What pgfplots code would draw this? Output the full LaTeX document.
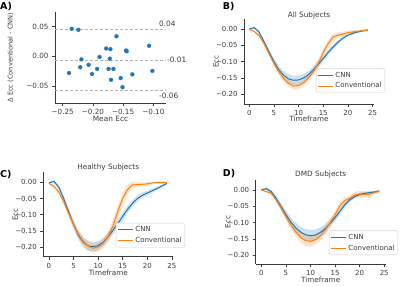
\documentclass[border=0pt]{standalone}
\usepackage{pgfplots}
\pgfplotsset{compat=1.18}
\usepackage{pgfplotstable}
\usepgfplotslibrary{fillbetween}
\usepackage{fontspec}
\setmainfont{DejaVu Sans}
\definecolor{tabblue}{HTML}{1F77B4}
\definecolor{taborange}{HTML}{FF7F0E}
\definecolor{txt}{HTML}{3A3A3A}
\definecolor{spine}{HTML}{3A3A3A}

\pgfplotstableread{
t cnn ecnn conv econv
0 0.000 0.002 -0.001 0.002
1 0.004 0.003 -0.008 0.003
2 -0.010 0.005 -0.020 0.004
3 -0.040 0.007 -0.045 0.006
4 -0.070 0.008 -0.075 0.007
5 -0.100 0.010 -0.105 0.008
6 -0.125 0.011 -0.132 0.009
7 -0.142 0.013 -0.152 0.010
8 -0.153 0.014 -0.167 0.010
9 -0.157 0.014 -0.175 0.010
10 -0.156 0.014 -0.173 0.010
11 -0.150 0.013 -0.165 0.010
12 -0.140 0.012 -0.150 0.010
13 -0.125 0.011 -0.130 0.011
14 -0.108 0.010 -0.105 0.012
15 -0.090 0.009 -0.072 0.013
16 -0.072 0.008 -0.045 0.012
17 -0.055 0.007 -0.024 0.010
18 -0.040 0.006 -0.019 0.008
19 -0.028 0.005 -0.015 0.007
20 -0.019 0.004 -0.011 0.006
21 -0.013 0.004 -0.009 0.005
22 -0.009 0.003 -0.007 0.004
23 -0.006 0.003 -0.005 0.003
24 -0.003 0.002 -0.003 0.002
}\tabB

\pgfplotstableread{
t cnn ecnn conv econv
0 -0.002 0.002 -0.003 0.003
1 0.003 0.003 -0.012 0.004
2 -0.015 0.006 -0.030 0.006
3 -0.050 0.009 -0.060 0.008
4 -0.090 0.011 -0.095 0.010
5 -0.130 0.013 -0.130 0.012
6 -0.163 0.014 -0.160 0.013
7 -0.185 0.015 -0.182 0.013
8 -0.196 0.015 -0.197 0.013
9 -0.198 0.015 -0.203 0.013
10 -0.195 0.014 -0.199 0.013
11 -0.185 0.013 -0.188 0.014
12 -0.168 0.013 -0.168 0.016
13 -0.148 0.013 -0.135 0.019
14 -0.127 0.013 -0.090 0.021
15 -0.105 0.012 -0.050 0.020
16 -0.083 0.011 -0.022 0.015
17 -0.065 0.010 -0.008 0.010
18 -0.050 0.009 -0.007 0.007
19 -0.040 0.008 -0.006 0.006
20 -0.033 0.007 -0.005 0.005
21 -0.026 0.006 -0.002 0.004
22 -0.019 0.005 -0.001 0.003
23 -0.011 0.004 0.000 0.003
24 -0.004 0.003 -0.001 0.002
}\tabC

\pgfplotstableread{
t cnn ecnn conv econv
0 0.000 0.002 0.000 0.002
1 0.004 0.004 -0.005 0.003
2 -0.005 0.006 -0.010 0.005
3 -0.025 0.008 -0.030 0.007
4 -0.050 0.010 -0.055 0.009
5 -0.075 0.012 -0.082 0.011
6 -0.098 0.014 -0.107 0.013
7 -0.116 0.016 -0.128 0.015
8 -0.129 0.017 -0.145 0.016
9 -0.137 0.018 -0.155 0.017
10 -0.140 0.018 -0.157 0.017
11 -0.138 0.017 -0.152 0.016
12 -0.130 0.016 -0.140 0.015
13 -0.118 0.014 -0.122 0.014
14 -0.102 0.012 -0.100 0.012
15 -0.085 0.010 -0.075 0.011
16 -0.065 0.009 -0.048 0.011
17 -0.045 0.008 -0.032 0.010
18 -0.030 0.007 -0.025 0.009
19 -0.020 0.006 -0.015 0.009
20 -0.014 0.005 -0.012 0.010
21 -0.010 0.005 -0.014 0.010
22 -0.008 0.004 -0.013 0.009
23 -0.006 0.003 -0.008 0.006
24 -0.003 0.002 -0.004 0.003
}\tabD

\pgfplotstableread{
x y
-0.235 0.0466
-0.224 0.0448
-0.161 0.0339
-0.107 0.0178
-0.178 0.0132
-0.171 0.0121
-0.145 0.0098
-0.144 0.0086
-0.189 -0.0011
-0.219 -0.0052
-0.172 -0.0040
-0.207 -0.0144
-0.221 -0.0184
-0.193 -0.0213
-0.174 -0.0213
-0.166 -0.0213
-0.2395 -0.0282
-0.2015 -0.0299
-0.1016 -0.0247
-0.1347 -0.0305
-0.170 -0.0397
-0.154 -0.0368
-0.151 -0.0523
}\tabA

\pgfplotsset{
  /pgf/number format/assume math mode=true,
  sns/.style={
    scale only axis, scaled ticks=false,
    axis x line*=bottom, axis y line*=left,
    axis line style={spine, line width=0.7pt, -},
    every tick/.style={spine, line width=0.6pt},
    tick align=outside, major tick length=3pt,
    tick label style={text=txt},
    label style={text=txt},
  },
  curve/.style={
    sns,
    width=130pt,
    xmin=-1.12, xmax=25.3,
    xtick={0,5,10,15,20,25},
    ytick={-0.2,-0.15,-0.1,-0.05,0},
    yticklabels={−0.20,−0.15,−0.10,−0.05,0.00},
    tick label style={font=\fontsize{7}{8}\selectfont},
    label style={font=\fontsize{7.2}{8.5}\selectfont},
    xlabel={Timeframe}, ylabel={Ecc},
    legend cell align=left,
    legend image code/.code={\draw[#1, line width=1pt] (0pt,0pt) -- (15pt,0pt);},
    legend style={draw=black!18, rounded corners=1.5pt, fill=white,
      font=\fontsize{7}{8.5}\selectfont\color{txt}, inner sep=1.3pt, anchor=south east},
  },
}

\newcommand{\bands}[1]{%
  \addplot[draw=none, name path=bu, forget plot] table[x=t, y expr=\thisrow{cnn}+\thisrow{ecnn}] {#1};
  \addplot[draw=none, name path=bl, forget plot] table[x=t, y expr=\thisrow{cnn}-\thisrow{ecnn}] {#1};
  \addplot[tabblue, fill opacity=0.22, draw=none, forget plot] fill between[of=bu and bl];
  \addplot[draw=none, name path=ou, forget plot] table[x=t, y expr=\thisrow{conv}+\thisrow{econv}] {#1};
  \addplot[draw=none, name path=ol, forget plot] table[x=t, y expr=\thisrow{conv}-\thisrow{econv}] {#1};
  \addplot[taborange, fill opacity=0.22, draw=none, forget plot] fill between[of=ou and ol];
  \addplot[tabblue, line width=1pt] table[x=t, y=cnn] {#1};
  \addplot[taborange, line width=1pt] table[x=t, y=conv] {#1};
  \legend{CNN, Conventional}
}

\begin{document}
\begin{tikzpicture}
\path (0,0) rectangle (400pt,283pt);

% Panel A
\begin{axis}[sns, at={(55pt,180pt)}, anchor=south west,
  width=111pt, height=91pt, clip=false,
  xmin=-0.2627, xmax=-0.079, ymin=-0.079, ymax=0.075,
  xtick={-0.25,-0.2,-0.15,-0.1},
  xticklabels={−0.25,−0.20,−0.15,−0.10},
  ytick={-0.05,0,0.05},
  yticklabels={−0.05,0.00,0.05},
  tick label style={font=\fontsize{7.2}{8}\selectfont},
  xlabel={Mean Ecc},
  ylabel={Δ Ecc (Conventional - CNN)},
  xlabel style={font=\fontsize{7.4}{9}\selectfont, at={(axis description cs:0.5,-0.17)}, anchor=center},
  ylabel style={font=\fontsize{6.6}{8}\selectfont, at={(axis description cs:-0.40,0.5)}, anchor=center},
]
\addplot[gray!60, line width=1pt, dash pattern=on 3.2pt off 1.8pt] coordinates {(-0.2627,0.0448) (-0.079,0.0448)};
\addplot[gray!60, line width=1pt, dash pattern=on 3.2pt off 1.8pt] coordinates {(-0.2627,-0.0075) (-0.079,-0.0075)};
\addplot[gray!60, line width=1pt, dash pattern=on 3.2pt off 1.8pt] coordinates {(-0.2627,-0.058) (-0.079,-0.058)};
\addplot[only marks, mark=*, mark size=2pt, mark options={fill=tabblue, draw=tabblue, line width=0.2pt}] table[x=x, y=y] {\tabA};
\node[anchor=west, text=txt, font=\fontsize{7.4}{8}\selectfont, inner sep=0pt] at (axis cs:-0.0906,0.0547) {0.04};
\node[anchor=west, text=txt, font=\fontsize{7.4}{8}\selectfont, inner sep=0pt] at (axis cs:-0.0774,-0.0060) {-0.01};
\node[anchor=west, text=txt, font=\fontsize{7.4}{8}\selectfont, inner sep=0pt] at (axis cs:-0.0906,-0.0666) {-0.06};
\end{axis}

% Panel B
\begin{axis}[curve, at={(244pt,179pt)}, anchor=south west,
  height=85pt, xmin=-1.08, ymin=-0.2296, ymax=0.0306,
  title={All Subjects},
  every axis title/.style={at={(axis description cs:0.5,1)}, anchor=center, yshift=4pt, text=txt, font=\fontsize{7.3}{8.5}\selectfont},
  xlabel style={at={(axis description cs:0.5,-0.18)}, anchor=center},
  ylabel style={at={(axis description cs:-0.215,0.5)}, anchor=center},
  legend style={at={(axis description cs:1.085,0.13)}},
]
\bands{\tabB}
\end{axis}

% Panel C
\begin{axis}[curve, at={(43.3pt,26.3pt)}, anchor=south west,
  height=84.4pt, xmin=-1.15, ymin=-0.229, ymax=0.0308,
  title={Healthy Subjects},
  every axis title/.style={at={(axis description cs:0.5,1)}, anchor=center, yshift=4.5pt, text=txt, font=\fontsize{7.3}{8.5}\selectfont},
  xlabel style={at={(axis description cs:0.5,-0.19)}, anchor=center},
  ylabel style={at={(axis description cs:-0.215,0.5)}, anchor=center},
  legend style={at={(axis description cs:1.09,0.11)}},
]
\bands{\tabC}
\end{axis}

% Panel D
\begin{axis}[curve, at={(255.7pt,19pt)}, anchor=south west,
  height=84pt, xmin=-1.15, ymin=-0.2265, ymax=0.0306,
  title={DMD Subjects},
  every axis title/.style={at={(axis description cs:0.5,1)}, anchor=center, yshift=5.5pt, text=txt, font=\fontsize{7.3}{8.5}\selectfont},
  xlabel style={at={(axis description cs:0.5,-0.19)}, anchor=center},
  ylabel style={at={(axis description cs:-0.215,0.5)}, anchor=center},
  legend style={at={(axis description cs:1.095,0.107)}},
]
\bands{\tabD}
\end{axis}

\node[anchor=west, inner sep=0pt, font=\fontsize{9.5}{10}\bfseries\selectfont] at (0pt,276pt) {A)};
\node[anchor=west, inner sep=0pt, font=\fontsize{9.5}{10}\bfseries\selectfont] at (222.7pt,276pt) {B)};
\node[anchor=west, inner sep=0pt, font=\fontsize{9.5}{10}\bfseries\selectfont] at (0pt,108.8pt) {C)};
\node[anchor=west, inner sep=0pt, font=\fontsize{9.5}{10}\bfseries\selectfont] at (222.7pt,109.2pt) {D)};
\end{tikzpicture}
\end{document}
